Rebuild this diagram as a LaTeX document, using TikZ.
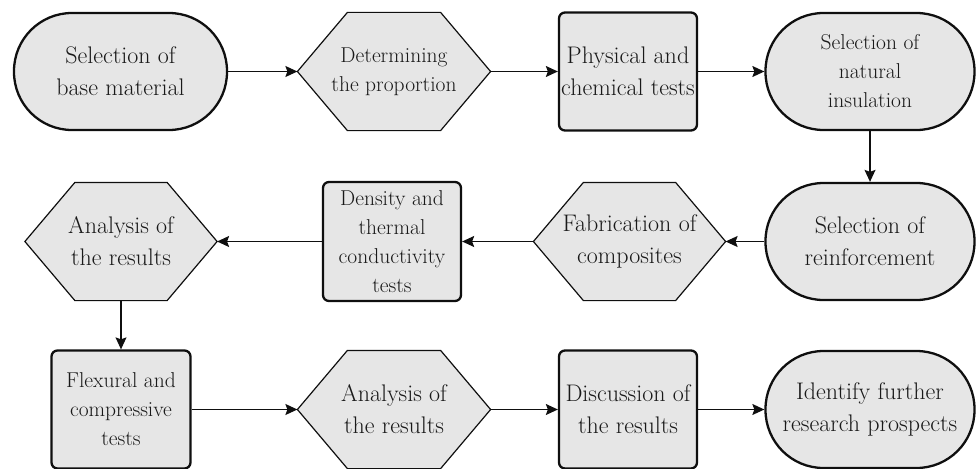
\documentclass[tikz,border=0pt]{standalone}
\usetikzlibrary{arrows.meta,backgrounds}
\definecolor{boxFill}{RGB}{230,230,230}
\definecolor{boxDraw}{RGB}{15,15,15}
\definecolor{textDark}{RGB}{25,25,25}

\begin{document}
\begin{tikzpicture}[
  x=1pt, y=-1pt,
  txt/.style={font=\fontsize{24}{32}\selectfont, align=center, text=textDark},
  smalltxt/.style={font=\fontsize{21.5}{29}\selectfont, align=center, text=textDark},
  terminal/.style={draw=boxDraw, fill=boxFill, line width=2.3pt, rounded corners=58pt,
    minimum width=209pt, minimum height=117pt, inner sep=2pt},
  process/.style={draw=boxDraw, fill=boxFill, line width=2.3pt, rounded corners=6pt,
    minimum width=138pt, minimum height=118pt, inner sep=1pt},
  prep/.style={minimum width=192pt, minimum height=117pt, inner sep=1pt, outer sep=0.6pt},
  hexline/.style={draw=boxDraw, fill=boxFill, line width=1.2pt},
  arrow/.style={line width=1.2pt, draw=boxDraw, -{Stealth[length=12pt, width=11pt, inset=2pt]}}
]
\useasboundingbox (0,0) rectangle (976,468);

% First row, left to right.
\node[terminal, txt, minimum width=213pt] (base) at (120.5,71.5) {Selection of\\base material};
\node[prep, smalltxt] (prop) at (394,71.5) {Determining\\the proportion};
\node[process, txt] (phys) at (628,71.5) {Physical and\\chemical tests};
\node[terminal, smalltxt] (natural) at (870,71.5) {Selection of\\natural\\insulation};

% Second row, right to left.
\node[terminal, txt] (reinf) at (870,241.5) {Selection of\\reinforcement};
\node[prep, txt, minimum width=191pt] (fab) at (629.5,241.5) {Fabrication of\\composites};
\node[process, smalltxt, minimum height=119pt] (dens) at (392,241.5) {Density and\\thermal\\conductivity\\tests};
\node[prep, txt, minimum width=191pt] (anal1) at (121,241.5) {Analysis of\\the results};

% Third row, left to right.
\node[process, smalltxt, minimum width=139pt] (flex) at (121,409.5) {Flexural and\\compressive\\tests};
\node[prep, txt] (anal2) at (394,409.5) {Analysis of\\the results};
\node[process, txt] (disc) at (628,409.5) {Discussion of\\the results};
\node[terminal, txt] (ident) at (870,409.5) {Identify further\\research prospects};

% Hexagon outlines behind the text.
\begin{scope}[on background layer]
  \foreach \n in {prop,fab,anal1,anal2}
    \draw[hexline] (\n.west) -- ([xshift=50pt]\n.north west) -- ([xshift=-50pt]\n.north east)
      -- (\n.east) -- ([xshift=-50pt]\n.south east) -- ([xshift=50pt]\n.south west) -- cycle;
\end{scope}

% Connectors.
\draw[arrow] (base) -- (prop);
\draw[arrow] (prop) -- (phys);
\draw[arrow] (phys) -- (natural);
\draw[arrow] (natural) -- (reinf);
\draw[arrow] (reinf) -- (fab);
\draw[arrow] (fab) -- (dens);
\draw[arrow] (dens) -- (anal1);
\draw[arrow] (anal1) -- (flex);
\draw[arrow] (flex) -- (anal2);
\draw[arrow] (anal2) -- (disc);
\draw[arrow] (disc) -- (ident);

\end{tikzpicture}
\end{document}
